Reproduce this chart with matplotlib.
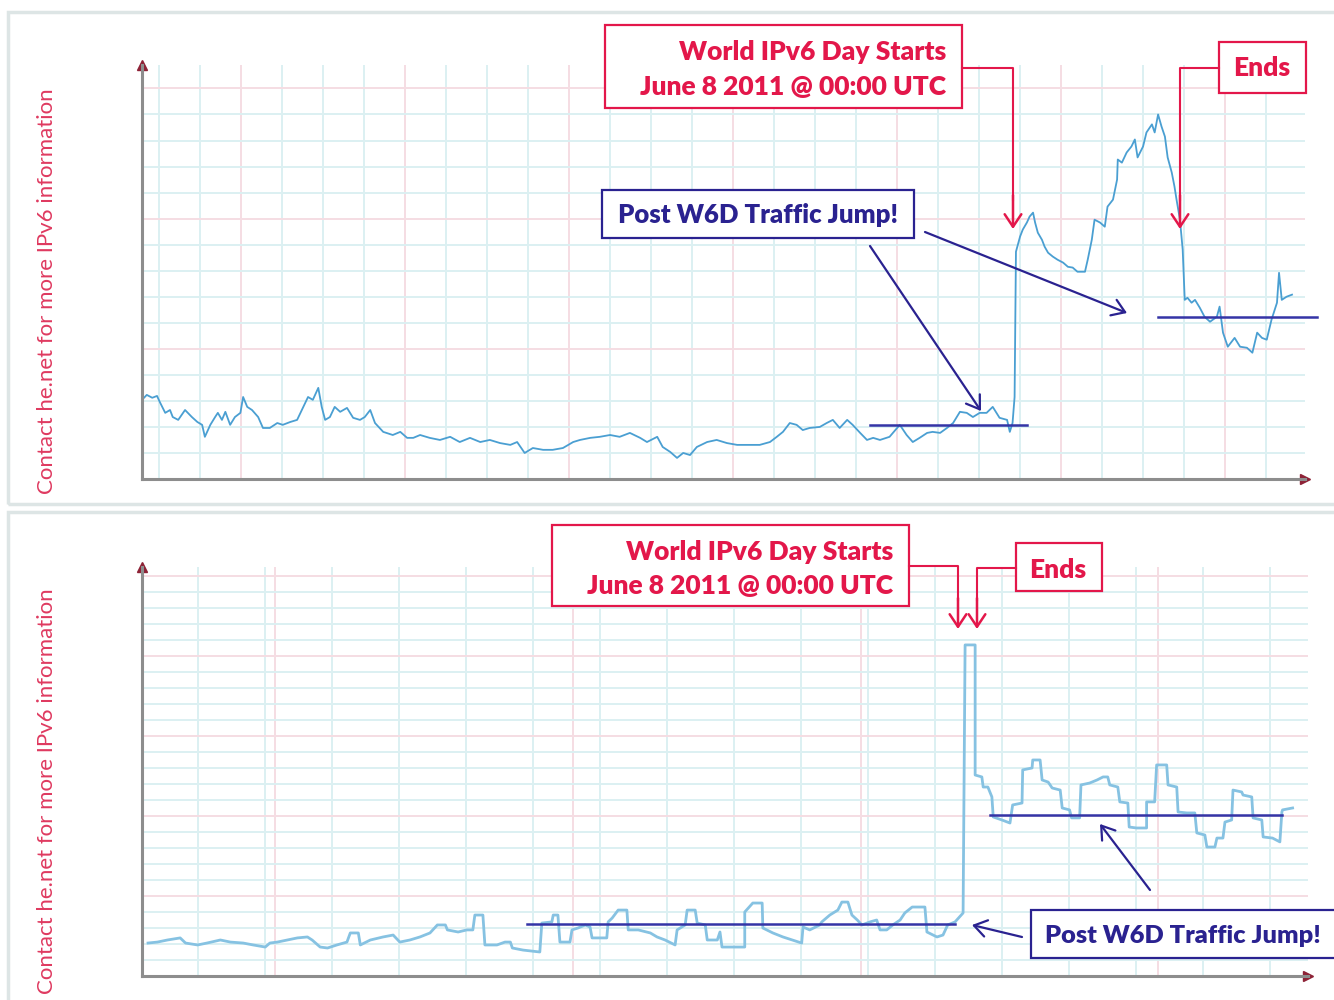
import matplotlib.pyplot as plt
from matplotlib.patches import Rectangle, FancyArrowPatch
from matplotlib.lines import Line2D

# top graph: hours (one light grid column = 6 h), traffic in grid units
top_hours = [
    -2.5, -1.8, -1.0, -0.3, 0.1, 0.9, 1.6, 2.0, 2.8, 3.8,
    4.8, 5.6, 6.3, 6.7, 7.5, 8.2, 8.6, 9.2, 9.7, 10.4,
    11.1, 11.9, 12.3, 12.9, 13.6, 14.5, 15.2, 16.2, 17.3, 18.1,
    19.2, 20.2, 21.1, 21.8, 22.5, 23.3, 23.8, 24.3, 25.0, 25.7,
    26.5, 27.5, 28.4, 29.4, 30.1, 30.9, 31.6, 32.8, 34.2, 35.3,
    36.3, 37.2, 38.2, 39.6, 41.1, 42.6, 44.0, 45.5, 47.0, 48.4,
    49.9, 51.4, 52.4, 53.5, 54.7, 56.2, 57.6, 59.1, 60.6, 61.6,
    63.1, 64.5, 66.0, 67.4, 68.9, 70.4, 71.4, 72.9, 73.7, 74.8,
    75.8, 76.7, 77.7, 78.7, 80.2, 81.6, 83.1, 84.6, 86.0, 87.9,
    89.4, 90.4, 91.3, 92.3, 93.3, 94.2, 95.2, 96.7, 97.7, 98.6,
    99.6, 100.7, 101.5, 102.6, 103.6, 104.5, 105.5, 106.9, 108.0, 108.4,
    109.4, 110.3, 111.3, 112.4, 113.2, 114.3, 115.3, 116.2, 117.2, 118.2,
    119.1, 120.1, 121.1, 122.0, 123.0, 124.1, 124.5, 124.9, 125.2, 125.4,
    126.0, 126.4, 127.0, 127.4, 127.9, 128.2, 128.6, 129.2, 129.6, 130.1,
    130.8, 131.5, 132.3, 133.0, 133.7, 134.4, 135.5, 135.9, 136.5, 136.9,
    137.7, 138.4, 138.8, 139.6, 140.2, 140.3, 140.9, 141.6, 142.3, 142.8,
    143.2, 144.0, 144.5, 145.3, 145.7, 146.2, 146.7, 147.2, 147.6, 148.2,
    148.6, 148.9, 149.4, 149.8, 150.1, 150.5, 151.1, 151.6, 152.3, 153.0,
    153.8, 154.8, 155.2, 155.7, 156.4, 157.4, 158.2, 159.2, 160.0, 160.7,
    161.4, 162.1, 162.8, 163.6, 163.9, 164.3, 165.0, 165.8,
]
top_traffic = [
    3.04, 3.23, 3.12, 3.19, 2.96, 2.54, 2.65, 2.38, 2.27, 2.65,
    2.38, 2.19, 2.08, 1.62, 2.08, 2.38, 2.54, 2.27, 2.58, 2.08,
    2.38, 2.54, 3.15, 2.77, 2.65, 2.38, 1.96, 1.96, 2.15, 2.08,
    2.19, 2.27, 2.77, 3.15, 3.04, 3.50, 2.77, 2.27, 2.38, 2.77,
    2.58, 2.73, 2.35, 2.27, 2.38, 2.65, 2.15, 1.81, 1.69, 1.81,
    1.58, 1.58, 1.69, 1.58, 1.50, 1.62, 1.42, 1.58, 1.42, 1.50,
    1.38, 1.31, 1.42, 1.00, 1.19, 1.12, 1.12, 1.19, 1.42, 1.50,
    1.58, 1.62, 1.69, 1.62, 1.77, 1.58, 1.42, 1.62, 1.23, 1.04,
    0.81, 1.00, 0.92, 1.23, 1.42, 1.50, 1.38, 1.31, 1.31, 1.31,
    1.42, 1.62, 1.81, 2.15, 2.08, 1.88, 1.96, 2.00, 2.15, 2.27,
    1.96, 2.27, 2.08, 1.77, 1.50, 1.58, 1.50, 1.62, 1.96, 2.08,
    1.69, 1.42, 1.58, 1.77, 1.81, 1.77, 1.96, 2.15, 2.58, 2.54,
    2.38, 2.54, 2.54, 2.77, 2.35, 2.27, 1.81, 2.15, 3.15, 8.73,
    9.31, 9.58, 9.85, 10.08, 10.23, 9.85, 9.46, 9.19, 8.92, 8.69,
    8.54, 8.42, 8.31, 8.15, 8.12, 7.96, 7.96, 8.42, 9.19, 9.96,
    9.85, 9.69, 10.46, 10.73, 11.50, 12.27, 12.15, 12.54, 12.77, 13.04,
    12.35, 12.77, 13.31, 13.62, 13.31, 14.00, 13.54, 13.15, 12.35, 11.77,
    11.23, 10.73, 9.96, 8.81, 6.88, 6.96, 6.77, 6.88, 6.58, 6.23,
    6.04, 6.23, 6.62, 5.62, 5.08, 5.42, 5.08, 5.04, 4.85, 5.62,
    5.42, 5.35, 6.12, 6.77, 7.92, 6.88, 7.00, 7.08,
]
top_pre_hours = [104.0, 127.0]
top_pre_level = [2.08, 2.08]
top_post_hours = [146.2, 169.4]
top_post_level = [6.23, 6.23]

# bottom graph: days, traffic in grid units
bot_days = [
    0.25, 0.39, 0.54, 0.73, 0.81, 0.99, 1.13, 1.33, 1.48, 1.67,
    1.82, 2.00, 2.07, 2.18, 2.33, 2.48, 2.63, 2.70, 2.82, 2.93,
    3.07, 3.22, 3.27, 3.39, 3.42, 3.57, 3.76, 3.91, 4.01, 4.16,
    4.31, 4.46, 4.57, 4.69, 4.72, 4.88, 5.01, 5.10, 5.13, 5.25,
    5.28, 5.46, 5.58, 5.66, 5.69, 5.85, 6.10, 6.13, 6.28, 6.30,
    6.37, 6.40, 6.55, 6.58, 6.67, 6.78, 6.85, 6.88, 7.10, 7.12,
    7.18, 7.27, 7.40, 7.42, 7.57, 7.75, 7.85, 7.97, 8.12, 8.15,
    8.27, 8.30, 8.42, 8.45, 8.57, 8.60, 8.75, 8.79, 8.82, 8.99,
    9.16, 9.16, 9.28, 9.42, 9.43, 9.58, 9.73, 9.87, 10.01, 10.03,
    10.13, 10.28, 10.31, 10.43, 10.55, 10.61, 10.70, 10.76, 10.84, 10.91,
    11.03, 11.13, 11.18, 11.28, 11.37, 11.48, 11.55, 11.66, 11.85, 11.88,
    12.03, 12.12, 12.19, 12.30, 12.42, 12.45, 12.60, 12.60, 12.70, 12.72,
    12.79, 12.85, 12.87, 13.00, 13.12, 13.16, 13.30, 13.31, 13.45, 13.46,
    13.57, 13.60, 13.69, 13.75, 13.87, 13.90, 14.01, 14.04, 14.16, 14.18,
    14.31, 14.42, 14.51, 14.58, 14.61, 14.73, 14.76, 14.88, 14.90, 15.01,
    15.16, 15.16, 15.28, 15.31, 15.46, 15.48, 15.61, 15.63, 15.76, 15.88,
    15.91, 16.03, 16.06, 16.18, 16.21, 16.30, 16.33, 16.43, 16.45, 16.58,
    16.60, 16.73, 16.75, 16.88, 16.90, 17.04, 17.15, 17.18, 17.19, 17.34,
]
bot_traffic = [
    2.06, 2.12, 2.25, 2.38, 2.06, 1.94, 2.06, 2.25, 2.12, 2.06,
    1.94, 1.81, 2.06, 2.12, 2.25, 2.38, 2.44, 2.25, 1.81, 1.75,
    1.94, 2.12, 2.69, 2.69, 1.94, 2.25, 2.44, 2.56, 2.12, 2.25,
    2.44, 2.69, 3.19, 3.19, 2.88, 2.75, 2.88, 2.88, 3.81, 3.81,
    1.94, 1.94, 2.12, 2.12, 1.75, 1.62, 1.50, 3.31, 3.38, 3.81,
    3.81, 2.12, 2.12, 2.88, 3.00, 3.19, 3.06, 2.38, 2.38, 3.38,
    3.62, 4.12, 4.12, 2.88, 2.88, 2.69, 2.44, 2.25, 1.94, 2.88,
    3.19, 4.12, 4.12, 3.31, 3.19, 2.25, 2.25, 2.75, 1.81, 1.81,
    1.81, 4.00, 4.56, 4.56, 3.00, 2.69, 2.44, 2.25, 2.06, 3.06,
    2.88, 3.19, 3.38, 3.81, 4.12, 4.62, 4.62, 3.81, 3.50, 3.19,
    3.38, 3.50, 2.88, 2.88, 3.19, 3.50, 3.94, 4.31, 4.31, 2.75,
    2.44, 2.56, 3.19, 3.38, 3.94, 20.69, 20.69, 12.56, 12.44, 11.81,
    11.81, 11.19, 9.94, 9.75, 9.56, 10.69, 10.81, 12.88, 13.00, 13.50,
    13.50, 12.25, 12.12, 11.75, 11.62, 10.50, 10.38, 9.88, 9.88, 11.94,
    12.06, 12.25, 12.44, 12.44, 11.94, 11.81, 10.88, 10.81, 9.31, 9.25,
    9.25, 10.88, 10.88, 13.19, 13.19, 11.94, 11.81, 10.25, 10.19, 10.19,
    8.94, 8.81, 8.06, 8.06, 8.62, 8.62, 9.62, 9.75, 11.62, 11.50,
    11.31, 11.19, 9.88, 9.75, 8.69, 8.62, 8.38, 10.25, 10.38, 10.50,
]
bot_pre_days = [5.91, 12.30]
bot_pre_level = [3.25, 3.25]
bot_post_days = [12.82, 17.18]
bot_post_level = [10.06, 10.06]

side_label = "Contact he.net for more IPv6 information"
start_lines = ["World IPv6 Day Starts", "June 8 2011 @ 00:00 UTC"]
end_label = "Ends"
jump_label = "Post W6D Traffic Jump!"

RED = "#e3174a"
NAVY = "#2a2290"
TRACE = "#4a9fd2"
TRACE2 = "#86c2e2"
LEVEL = "#3434a6"
GRID = "#dcf0f2"
PINK = "#f5dde3"
AXIS = "#8d8d8d"
TIP = "#8e2236"
FONT = ["Lato", "DejaVu Sans"]

W, H = 1334, 1000
fig = plt.figure(figsize=(W / 100, H / 100), dpi=100)


def px(x, y):
    return x / W, 1 - y / H


def make_axes(x0, y_top, x1, y_axis, xlim, ylim, xmaj, xmin, ymaj, ymin):
    ax = fig.add_axes([x0 / W, 1 - y_axis / H, (x1 - x0) / W, (y_axis - y_top) / H])
    ax.set_xlim(xlim)
    ax.set_ylim(ylim)
    ax.set_xticks(xmaj)
    ax.set_xticks(xmin, minor=True)
    ax.set_yticks(ymaj)
    ax.set_yticks(ymin, minor=True)
    ax.grid(which="minor", color=GRID, lw=1.4)
    ax.grid(which="major", color=PINK, lw=1.4)
    ax.set_axisbelow(True)
    ax.tick_params(which="both", length=0, labelbottom=False, labelleft=False)
    for s in ["top", "right"]:
        ax.spines[s].set_visible(False)
    for s in ["left", "bottom"]:
        ax.spines[s].set_color(AXIS)
        ax.spines[s].set_linewidth(2.2)
    ax.plot(1, 0, ">", ms=7, color=TIP, transform=ax.transAxes, clip_on=False)
    ax.plot(0, 1, "^", ms=7, color=TIP, transform=ax.transAxes, clip_on=False)
    return ax


# panel frames
for y0, y1 in [(12, 504), (512, 1010)]:
    x, y = px(8, y1)
    fig.add_artist(Rectangle((x, y), 1.0, (y1 - y0) / H, transform=fig.transFigure,
                             fill=False, edgecolor="#dde5e5", lw=2.5))

ax1 = make_axes(142, 65, 1305, 479, (-2.5, 167.7), (0, 15.9),
                [12, 36, 60, 84, 108, 132, 156], list(range(0, 168, 6)),
                [5, 10, 15], list(range(1, 16)))
ax1.plot(top_hours, top_traffic, color=TRACE, lw=1.3)
ax1.plot(top_pre_hours, top_pre_level, color=LEVEL, lw=1.8, clip_on=False)
ax1.plot(top_post_hours, top_post_level, color=LEVEL, lw=1.8, clip_on=False)

ax2 = make_axes(142, 567, 1308, 976, (0.16, 17.57), (0, 25.56),
                [2.15, 6.6, 10.9, 15.33], list(range(1, 18)),
                [5, 10, 15, 20, 25], list(range(1, 26)))
ax2.plot(bot_days, bot_traffic, color=TRACE2, lw=2.0)
ax2.plot(bot_pre_days, bot_pre_level, color=LEVEL, lw=1.8)
ax2.plot(bot_post_days, bot_post_level, color=LEVEL, lw=1.8)


def frame(x0, y0, x1, y1, color):
    fig.add_artist(Rectangle(px(x0, y1), (x1 - x0) / W, (y1 - y0) / H,
                             transform=fig.transFigure, facecolor="white",
                             edgecolor=color, lw=1.6, zorder=10))


def path(points, color):
    xs, ys = zip(*[px(*p) for p in points])
    fig.add_artist(Line2D(xs, ys, transform=fig.transFigure, color=color, lw=1.5, zorder=10))


def arrow(p0, p1, color, lw=1.6, hl=0.45, hw=0.3):
    fig.add_artist(FancyArrowPatch(px(*p0), px(*p1), transform=fig.transFigure,
                                   arrowstyle=f"->,head_length={hl},head_width={hw}",
                                   mutation_scale=20, color=color, lw=lw, zorder=10,
                                   shrinkA=0, shrinkB=0))


def label(x, y, s, color, ha="center", size=19):
    fig.text(*px(x, y), s, ha=ha, va="center", color=color, fontsize=size,
             fontweight="heavy", family=FONT, zorder=11)


# side labels
for yc in [291, 791]:
    fig.text(*px(47, yc), side_label, rotation=90, ha="center", va="center",
             color="#df3a60", fontsize=16, family=FONT)

# top annotations
frame(605, 25, 962, 108, RED)
label(946, 52, start_lines[0], RED, ha="right")
label(946, 87, start_lines[1], RED, ha="right")
path([(962, 68), (1013, 68), (1013, 200)], RED)
arrow((1013, 195), (1013, 229), RED, lw=1.8)

frame(1219, 42, 1306, 93, RED)
label(1262, 68, end_label, RED)
path([(1219, 68), (1180, 68), (1180, 200)], RED)
arrow((1180, 195), (1180, 229), RED, lw=1.8)

frame(602, 190, 914, 238, NAVY)
label(758, 215, jump_label, NAVY, size=18.5)
arrow((870, 246), (981, 411), NAVY)
arrow((925, 232), (1127, 313), NAVY)

# bottom annotations
frame(552, 525, 909, 606, RED)
label(893, 552, start_lines[0], RED, ha="right")
label(893, 586, start_lines[1], RED, ha="right")
path([(909, 566), (958, 566), (958, 600)], RED)
arrow((958, 598), (958, 629), RED, lw=1.8)

frame(1016, 543, 1102, 591, RED)
label(1058, 570, end_label, RED)
path([(1016, 568), (977, 568), (977, 600)], RED)
arrow((977, 598), (977, 629), RED, lw=1.8)

frame(1031, 910, 1340, 958, NAVY)
label(1045, 936, jump_label, NAVY, ha="left", size=18.3)
arrow((1150, 890), (1100, 824), NAVY)
arrow((1022, 937), (972, 925), NAVY)

fig.savefig("out.png", dpi=100)
